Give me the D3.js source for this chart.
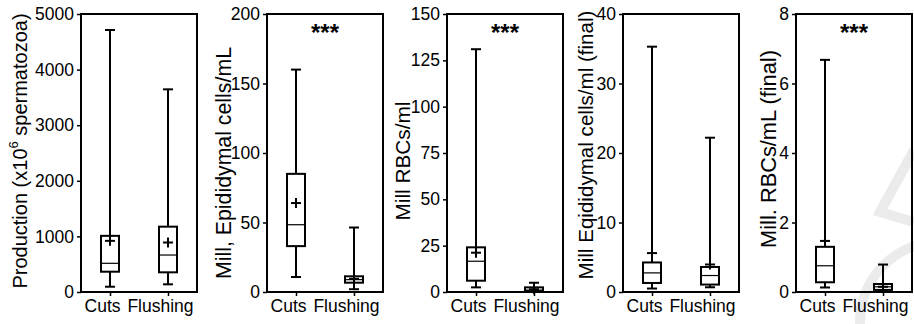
<!DOCTYPE html>
<html>
<head>
<meta charset="utf-8">
<script src="https://cdn.jsdelivr.net/npm/d3@7/dist/d3.min.js"></script>
<style>
  html, body { margin: 0; padding: 0; background: #fff; }
  svg { display: block; font-family: "Liberation Sans", Arial, Helvetica, sans-serif; }
</style>
</head>
<body>
<svg id="chart" width="914" height="324"></svg>
<script>
// ---------- data ----------
const categories = ["Cuts", "Flushing"];
const yTitles = [
  "Production (x10|6| spermatozoa)",
  "Mill, Epididymal cells/mL",
  "Mill RBCs/ml",
  "Mill Eqididymal cells/ml (final)",
  "Mill. RBCs/mL (final)"
];
const yMax = [5000, 200, 150, 40, 8];
const yTicks = [
  [0, 1000, 2000, 3000, 4000, 5000],
  [0, 50, 100, 150, 200],
  [0, 25, 50, 75, 100, 125, 150],
  [0, 10, 20, 30, 40],
  [0, 2, 4, 6, 8]
];
// per panel: [Cuts, Flushing]
const whiskerLow  = [[95, 138], [10.8, 2.0], [2.5, 0.3], [0.5, 0.68], [0.13, 0.04]];
const quartile1   = [[365, 354], [33, 6.7], [6.1, 0.5], [1.3, 1.07], [0.28, 0.06]];
const medians     = [[516, 665], [48.4, 8.9], [16.6, 1.0], [2.75, 2.37], [0.755, 0.15]];
const quartile3   = [[1010, 1175], [85, 11.3], [24.1, 2.5], [4.25, 3.6], [1.3, 0.23]];
const whiskerHigh = [[4712, 3645], [160, 46.4], [131, 5.0], [35.3, 22.2], [6.68, 0.79]];
const means       = [[920, 890], [64, 9.5], [21.2, 1.5], [5.6, 3.96], [1.47, 0.15]];
const significance = ["", "***", "***", "", "***"];

// ---------- layout ----------
const panelLeft = [81, 267, 447, 623, 796];
const panelW = 116, plotTop = 14, plotBottom = 292;
const titleX = [20, 224, 402, 585, 768];
const titleY = [151, 163, 161, 145, 149];
const titleSize = [20, 21.3, 20.8, 20.6, 21.8];
const boxW = 18, capW = 10, plusW = 10;

const svg = d3.select("#chart");

// faint watermark in the lower right
const wm = svg.append("g").attr("fill", "none").attr("stroke", "#ebebeb").attr("stroke-width", 10);
wm.append("circle").attr("cx", 940).attr("cy", 322).attr("r", 80);
wm.append("path").attr("d", "M914,150 L880,212 L914,222");

for (let p = 0; p < 5; p++) {
  const g = svg.append("g").attr("transform", `translate(${panelLeft[p]},0)`);
  const x = d3.scalePoint().domain(categories).range([0, panelW]).padding(0.5);
  const y = d3.scaleLinear().domain([0, yMax[p]]).range([plotBottom, plotTop]);

  // y axis
  const ya = g.append("g").call(d3.axisLeft(y).tickValues(yTicks[p]).tickFormat(d3.format("d"))
    .tickSize(4).tickPadding(3));
  ya.select(".domain").remove();
  ya.selectAll(".tick line").attr("stroke", "#000").attr("stroke-width", 1.5);
  ya.selectAll(".tick text").attr("font-size", 17.5).attr("fill", "#000")
    .attr("font-family", '"Liberation Sans", Arial, sans-serif');

  // x axis
  const xa = g.append("g").attr("transform", `translate(0,${plotBottom})`)
    .call(d3.axisBottom(x).tickSize(4).tickPadding(4));
  xa.select(".domain").remove();
  xa.selectAll(".tick line").attr("stroke", "#000").attr("stroke-width", 1.5);
  xa.selectAll(".tick text").attr("font-size", 17.5).attr("fill", "#000").attr("dx", -8)
    .attr("font-family", '"Liberation Sans", Arial, sans-serif');

  // frame
  g.append("rect").attr("x", 0).attr("y", plotTop).attr("width", panelW).attr("height", plotBottom - plotTop)
    .attr("fill", "none").attr("stroke", "#000").attr("stroke-width", 2);

  // boxes
  categories.forEach((c, i) => {
    const cx = x(c);
    const lo = whiskerLow[p][i], q1 = quartile1[p][i], md = medians[p][i],
          q3 = quartile3[p][i], hi = whiskerHigh[p][i], mn = means[p][i];
    const b = g.append("g").attr("stroke", "#000").attr("fill", "none");
    b.append("line").attr("x1", cx).attr("x2", cx).attr("y1", y(hi)).attr("y2", y(q3)).attr("stroke-width", 2);
    b.append("line").attr("x1", cx).attr("x2", cx).attr("y1", y(q1)).attr("y2", y(lo)).attr("stroke-width", 2);
    b.append("line").attr("x1", cx - capW / 2).attr("x2", cx + capW / 2).attr("y1", y(hi)).attr("y2", y(hi)).attr("stroke-width", 2);
    b.append("line").attr("x1", cx - capW / 2).attr("x2", cx + capW / 2).attr("y1", y(lo)).attr("y2", y(lo)).attr("stroke-width", 2);
    b.append("rect").attr("x", cx - boxW / 2).attr("width", boxW)
      .attr("y", y(q3)).attr("height", y(q1) - y(q3)).attr("fill", "#fff").attr("stroke-width", 2);
    b.append("line").attr("x1", cx - boxW / 2).attr("x2", cx + boxW / 2).attr("y1", y(md)).attr("y2", y(md)).attr("stroke-width", 1.2);
    b.append("line").attr("x1", cx - plusW / 2).attr("x2", cx + plusW / 2).attr("y1", y(mn)).attr("y2", y(mn)).attr("stroke-width", 2);
    b.append("line").attr("x1", cx).attr("x2", cx).attr("y1", y(mn) - plusW / 2).attr("y2", y(mn) + plusW / 2).attr("stroke-width", 2);
  });

  // significance
  if (significance[p]) {
    g.append("text").attr("x", panelW / 2).attr("y", 41).attr("text-anchor", "middle")
      .attr("font-size", 24).attr("font-weight", "bold").text(significance[p]);
  }

  // y title
  const parts = yTitles[p].split("|");
  const t = svg.append("text")
    .attr("transform", `translate(${titleX[p]},${titleY[p]}) rotate(-90)`)
    .attr("text-anchor", "middle").attr("dominant-baseline", "central")
    .attr("font-size", titleSize[p]).attr("fill", "#000");
  t.append("tspan").text(parts[0]);
  if (parts.length > 1) {
    t.append("tspan").attr("font-size", 13).attr("dy", -7).text(parts[1]);
    t.append("tspan").attr("dy", 7).text(parts[2]);
  }
}
</script>
</body>
</html>
